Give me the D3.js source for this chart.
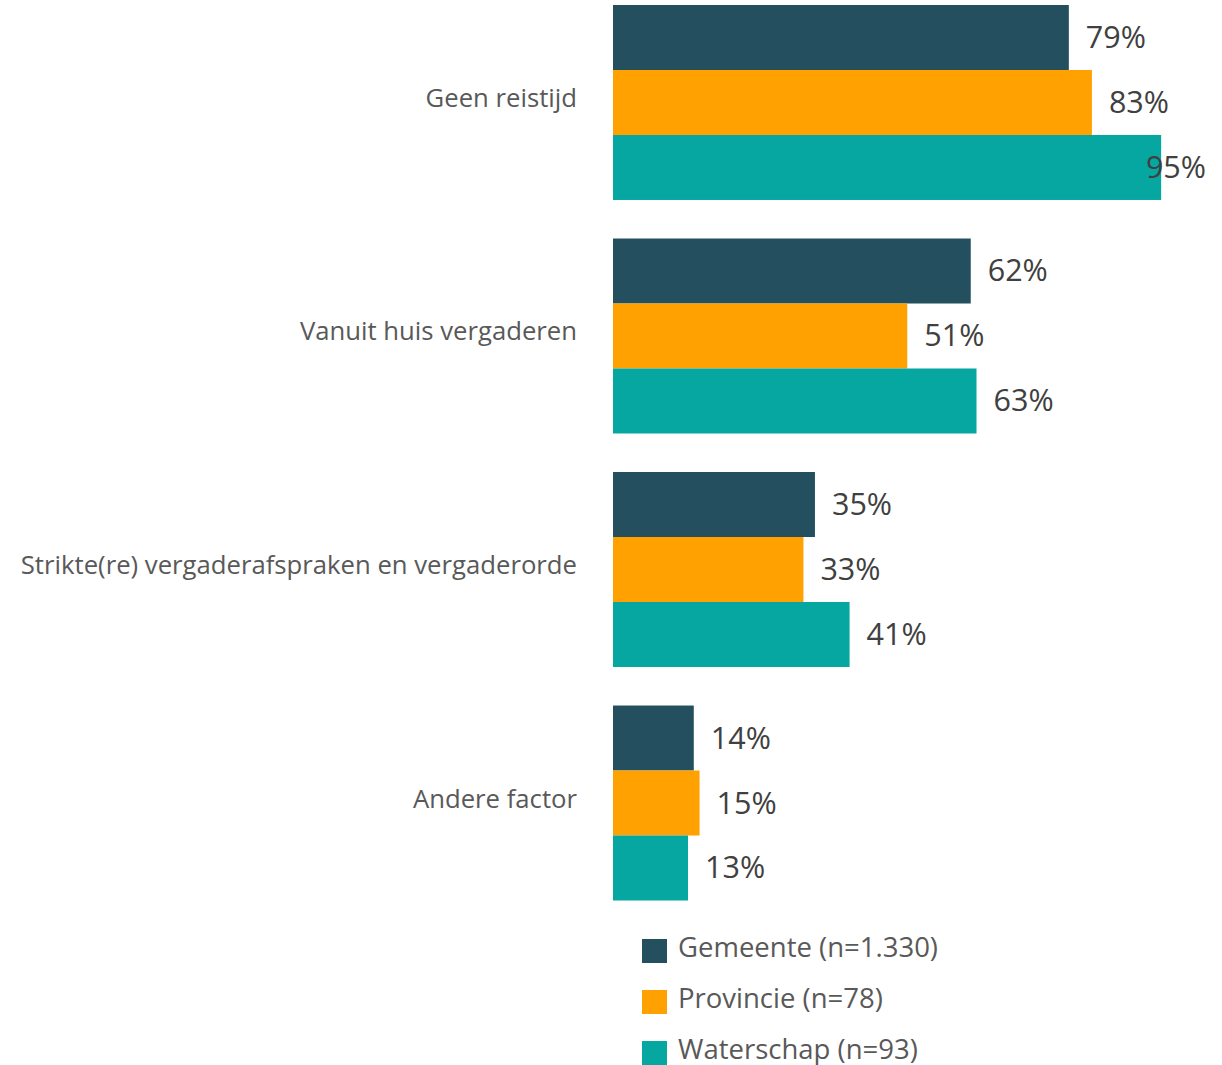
<!DOCTYPE html>
<html><head><meta charset="utf-8">
<script src="https://cdn.jsdelivr.net/npm/d3@7"></script>
<style>body{margin:0;background:#fff}svg{display:block}</style>
</head><body>
<script>
const categories = ["Geen reistijd", "Vanuit huis vergaderen", "Strikte(re) vergaderafspraken en vergaderorde", "Andere factor"];
const seriesNames = ["Gemeente (n=1.330)", "Provincie (n=78)", "Waterschap (n=93)"];
const gemeente = [79, 62, 35, 14];
const provincie = [83, 51, 33, 15];
const waterschap = [95, 63, 41, 13];
const colors = ["#234F5E", "#FFA100", "#06A7A1"];

const W = 1222, H = 1065;
const svg = d3.select("body").append("svg").attr("width", W).attr("height", H);
const seriesVals = [gemeente, provincie, waterschap];
const data = categories.map((c, i) => ({cat: c, vals: seriesVals.map((s, j) => ({key: seriesNames[j], v: s[i], j}))}));

const x = d3.scaleLinear().domain([0, 100]).range([613, 1190]);
const y0 = d3.scaleBand().domain(categories).range([5, 900.5]).paddingInner(0.165).paddingOuter(0);
const y1 = d3.scaleBand().domain(seriesNames).range([0, y0.bandwidth()]).padding(0);

const font = "'Open Sans', sans-serif";
const g = svg.selectAll("g.cat").data(data).join("g").attr("class", "cat")
  .attr("transform", d => `translate(0,${y0(d.cat)})`);

g.selectAll("rect").data(d => d.vals).join("rect")
  .attr("x", x(0)).attr("y", d => y1(d.key))
  .attr("width", d => x(d.v) - x(0)).attr("height", y1.bandwidth())
  .attr("fill", d => colors[d.j]);

g.selectAll("text.val").data(d => d.vals).join("text").attr("class", "val")
  .attr("y", d => y1(d.key) + y1.bandwidth() / 2 + 10.5)
  .attr("font-family", font).attr("font-size", 30.5).attr("fill", "#404040")
  .text(d => d.v + "%")
  .attr("x", function(d) {
    const w = this.getComputedTextLength();
    return Math.min(x(d.v) + 17, W - 16 - w);
  });

svg.selectAll("text.cat").data(categories).join("text").attr("class", "cat")
  .attr("x", 577).attr("y", d => y0(d) + y0.bandwidth() / 2 + 4.5)
  .attr("text-anchor", "end").attr("font-family", font).attr("font-size", 25.7).attr("fill", "#595959")
  .text(d => d);

const leg = svg.selectAll("g.leg").data(seriesNames).join("g").attr("class", "leg")
  .attr("transform", (d, i) => `translate(642,${939 + i * 51})`);
leg.append("rect").attr("width", 25).attr("height", 24).attr("fill", (d, i) => colors[i]);
leg.append("text").attr("x", 36).attr("y", 17.5).attr("font-family", font).attr("font-size", 27.5)
  .attr("fill", "#595959").text(d => d);
</script>
</body></html>
